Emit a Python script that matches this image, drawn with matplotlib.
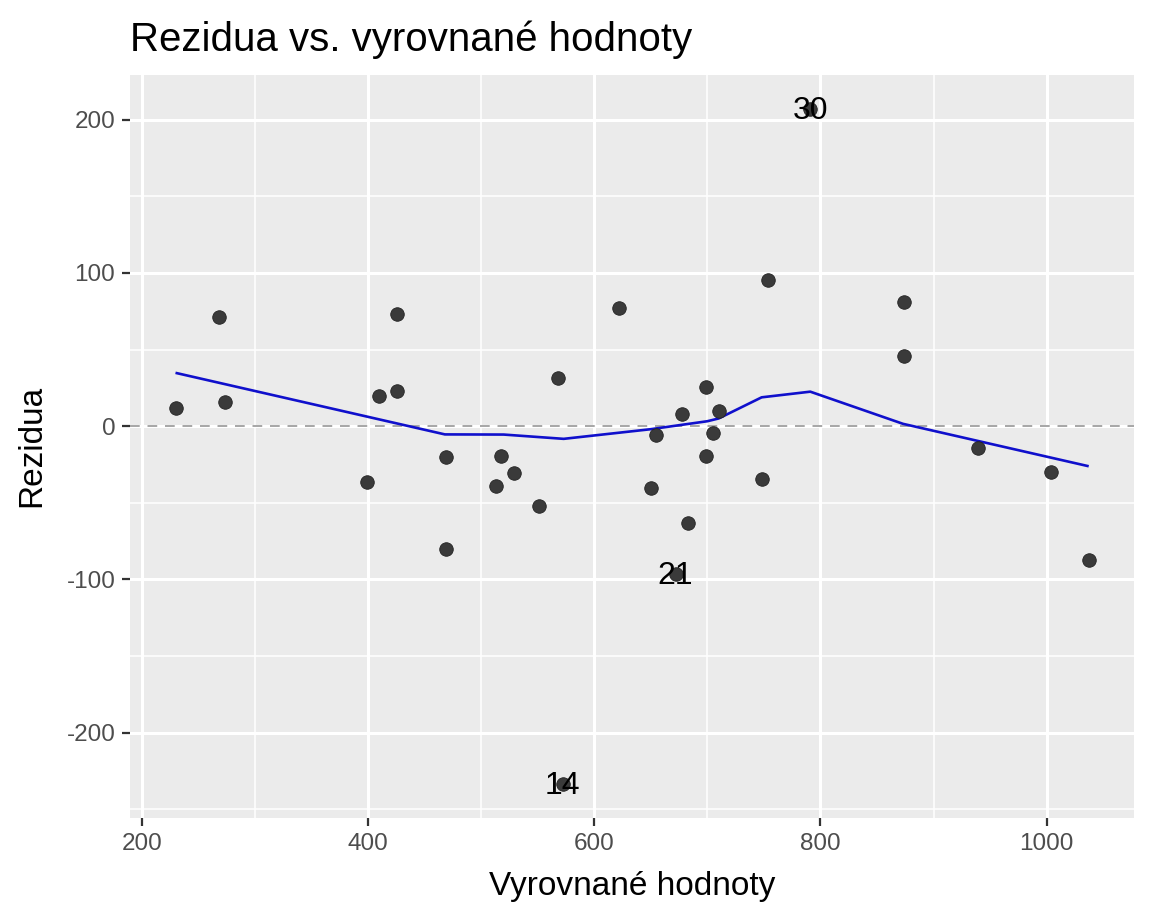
import matplotlib
matplotlib.use('Agg')
import matplotlib.pyplot as plt
from matplotlib.ticker import MultipleLocator

plt.rcParams['font.family'] = ['Liberation Sans', 'DejaVu Sans']
plt.rcParams['axes.unicode_minus'] = False

# fitted values and residuals
fitted = [230, 268, 274, 399, 410, 426, 426, 469, 469, 513, 518, 529, 551, 568,
          572, 622, 650, 655, 672, 678, 683, 699, 699, 705, 710, 748, 754, 791,
          874, 874, 939, 1004, 1037]
resid = [11.7, 71.2, 16.0, -36.4, 19.7, 73.4, 23.1, -20.4, -80.3, -39.0, -19.5,
         -30.3, -51.9, 31.4, -233.8, 76.8, -40.3, -5.6, -96.5, 7.6, -63.0, 25.8,
         -19.5, -4.8, 10.2, -34.4, 95.7, 207.1, 81.0, 45.9, -14.5, -29.9, -87.7]

# smoother vertices
smooth_x = [231, 468, 520, 573, 650, 700, 710, 748, 791, 873, 1036]
smooth_y = [34.6, -5.4, -5.5, -8.3, -2.0, 3.2, 5.0, 18.8, 22.5, 1.5, -26.0]

# labelled observations
lab_names = ['30', '21', '14']
lab_x = [791, 672, 572]
lab_y = [207.1, -96.5, -233.8]

fig = plt.figure(figsize=(11.52, 9.22), dpi=100)
ax = fig.add_axes([0.1128, 0.1128, 0.872, 0.806])
ax.set_facecolor('#EBEBEB')
for s in ax.spines.values():
    s.set_visible(False)

ax.set_xlim(189.6, 1077.6)
ax.set_ylim(-255.8, 229.3)
ax.xaxis.set_major_locator(MultipleLocator(200))
ax.xaxis.set_minor_locator(MultipleLocator(100))
ax.yaxis.set_major_locator(MultipleLocator(100))
ax.yaxis.set_minor_locator(MultipleLocator(50))
ax.grid(which='major', color='white', lw=2.2)
ax.grid(which='minor', color='white', lw=1.1)
ax.set_axisbelow(True)
ax.tick_params(which='major', length=5.5, width=1.6, color='#333333',
               labelsize=17.5, labelcolor='#4D4D4D', pad=5)
ax.tick_params(which='minor', length=0)

ax.axhline(0, color='#A6A6A6', lw=1.4, ls=(0, (5, 4)), zorder=1.5)
ax.plot(smooth_x, smooth_y, color='#1010CC', lw=1.9, zorder=2)
ax.scatter(fitted, resid, s=95, color='#3A3A3A', edgecolors='#222222',
           linewidths=0.6, zorder=3)
for name, x, y in zip(lab_names, lab_x, lab_y):
    ax.annotate(name, (x, y), xytext=(0, -1.5), textcoords='offset points',
                ha='center', va='center', fontsize=23, color='black', zorder=4)

ax.set_xlabel('Vyrovnané hodnoty', fontsize=24, labelpad=12)
ax.set_ylabel('Rezidua', fontsize=24, labelpad=14)
fig.text(0.1128, 0.957, 'Rezidua vs. vyrovnané hodnoty', fontsize=29,
         ha='left', va='center')

fig.savefig('out.png', dpi=100)
